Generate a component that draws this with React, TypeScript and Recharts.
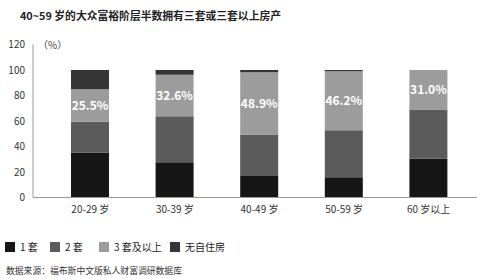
import { BarChart, Bar, XAxis, YAxis, LabelList } from "recharts";

const ageGroups = ["20-29 岁", "30-39 岁", "40-49 岁", "50-59 岁", "60 岁以上"];
const oneHome = [35.2, 27.7, 16.8, 15.8, 30.6];
const twoHomes = [24.2, 36.0, 32.6, 37.0, 38.4];
const threePlus = [25.5, 32.6, 48.9, 46.2, 31.0];
const noHome = [15.1, 3.7, 1.7, 1.0, 0];
const yTicks = [0, 20, 40, 60, 80, 100, 120];

const series = [
  { key: "one", name: "1 套", color: "#161616" },
  { key: "two", name: "2 套", color: "#5b5b5b" },
  { key: "three", name: "3 套及以上", color: "#9c9c9c" },
  { key: "none", name: "无自住房", color: "#353535" },
];
const legendX = [5, 50, 99, 170];

const data = ageGroups.map((age, i) => ({
  age,
  one: oneHome[i],
  two: twoHomes[i],
  three: threePlus[i],
  none: noHome[i],
}));

const font = "'Noto Sans CJK SC', 'Noto Sans', sans-serif";

export default function App() {
  return (
    <div
      style={{
        position: "absolute",
        left: 0,
        top: 0,
        width: 480,
        height: 278,
        background: "#fff",
        fontFamily: font,
        color: "#333",
      }}
    >
      <div
        style={{
          position: "absolute",
          left: 20,
          top: 7,
          fontSize: 10.8,
          fontWeight: 700,
          color: "#222",
          whiteSpace: "nowrap",
        }}
      >
        40~59 岁的大众富裕阶层半数拥有三套或三套以上房产
      </div>
      <div style={{ position: "absolute", left: 38, top: 37, fontSize: 10, color: "#444" }}>
        （%）
      </div>
      <BarChart
        width={480}
        height={278}
        data={data}
        margin={{ top: 44.5, right: 3, bottom: 50.5, left: 0 }}
        barSize={38}
      >
        <XAxis
          dataKey="age"
          tickLine={false}
          padding={{ left: 15, right: 6 }}
          stroke="#999"
          tick={{ fill: "#333", fontSize: 10, fontFamily: font }}
        />
        <YAxis
          width={33}
          domain={[0, 120]}
          ticks={yTicks}
          tickLine={false}
          stroke="#999"
          tick={{ fill: "#333", fontSize: 10, fontFamily: font }}
        />
        {series.map((s) => (
          <Bar
            key={s.key}
            dataKey={s.key}
            stackId="a"
            fill={s.color}
            isAnimationActive={false}
          >
            {s.key === "three" && (
              <LabelList
                dataKey="three"
                position="center"
                formatter={(v: number) => `${v.toFixed(1)}%`}
                style={{ fill: "#fff", fontSize: 12, fontWeight: 700, fontFamily: font }}
              />
            )}
          </Bar>
        ))}
      </BarChart>
      {series.map((s, i) => (
        <div
          key={s.key}
          style={{
            position: "absolute",
            left: legendX[i],
            top: 239,
            display: "flex",
            alignItems: "center",
            fontSize: 10,
            color: "#222",
            whiteSpace: "nowrap",
          }}
        >
          <span
            style={{
              display: "inline-block",
              width: 10,
              height: 10,
              background: s.color,
              marginRight: 5,
            }}
          />
          {s.name}
        </div>
      ))}
      <div style={{ position: "absolute", left: 6, top: 264, fontSize: 8.8, color: "#333" }}>
        数据来源：福布斯中文版私人财富调研数据库
      </div>
    </div>
  );
}
